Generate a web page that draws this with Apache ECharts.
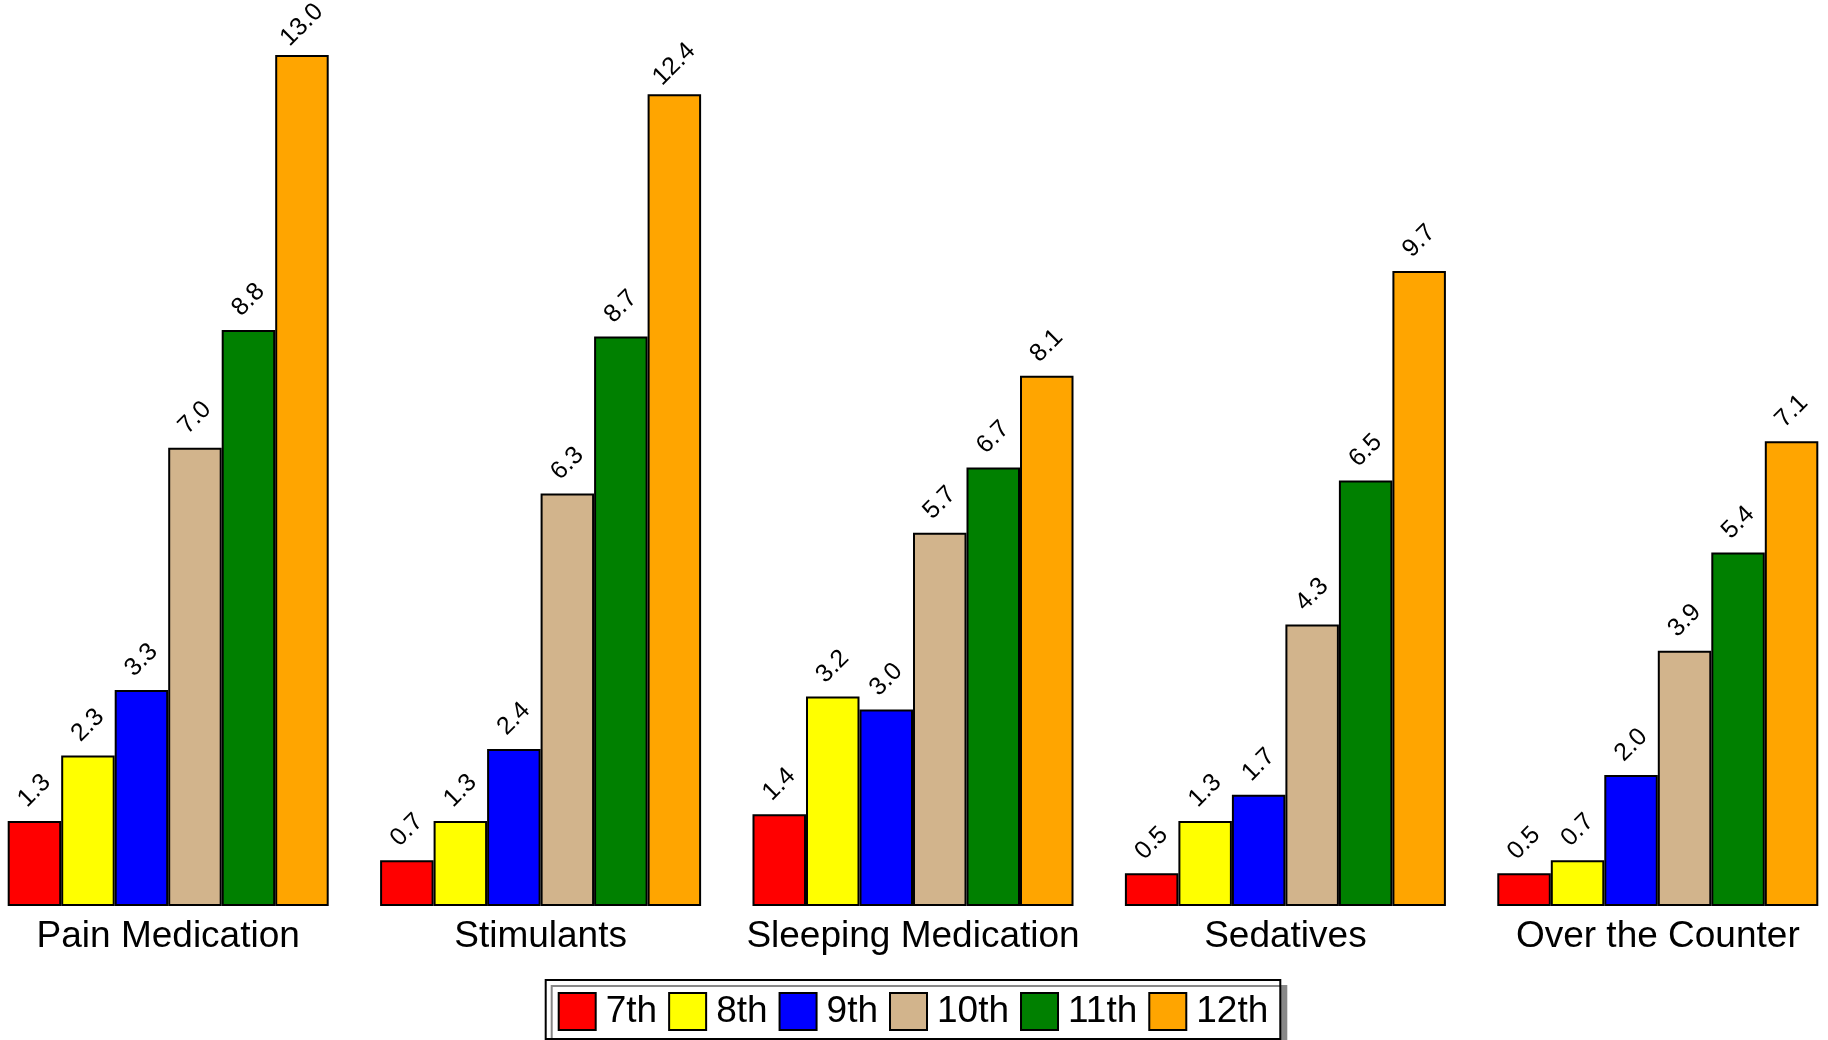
<!DOCTYPE html>
<html>
<head>
<meta charset="utf-8">
<script src="https://cdn.jsdelivr.net/npm/echarts@6/dist/echarts.min.js"></script>
<style>
html,body{margin:0;padding:0;background:#fff;overflow:hidden;width:1828px;height:1040px;}
#chart{position:absolute;left:-17.7px;top:0;width:1862.4px;height:1040px;}
</style>
</head>
<body>
<div id="chart"></div>
<script>
const categories = ['Pain Medication', 'Stimulants', 'Sleeping Medication', 'Sedatives', 'Over the Counter'];
const grades = ['7th', '8th', '9th', '10th', '11th', '12th'];
const grade7 = [1.3, 0.7, 1.4, 0.5, 0.5];
const grade8 = [2.3, 1.3, 3.2, 1.3, 0.7];
const grade9 = [3.3, 2.4, 3.0, 1.7, 2.0];
const grade10 = [7.0, 6.3, 5.7, 4.3, 3.9];
const grade11 = [8.8, 8.7, 6.7, 6.5, 5.4];
const grade12 = [13.0, 12.4, 8.1, 9.7, 7.1];
const colors = ['#FF0000', '#FFFF00', '#0000FF', '#D2B48C', '#008000', '#FFA500'];

const seriesData = [grade7, grade8, grade9, grade10, grade11, grade12];
const FONT = '"Liberation Sans", Arial, Helvetica, sans-serif';

const chart = echarts.init(document.getElementById('chart'), null, {renderer: 'canvas'});
chart.setOption({
  animation: false,
  backgroundColor: '#fff',
  textStyle: {fontFamily: FONT},
  grid: {left: 0, right: 0, top: 55, bottom: 134, containLabel: false},
  xAxis: {
    type: 'category',
    data: categories,
    axisLine: {show: false},
    axisTick: {show: false},
    axisLabel: {fontSize: 37, color: '#000', margin: 12, fontFamily: FONT, interval: 0}
  },
  yAxis: {
    type: 'value',
    min: 0,
    max: 13,
    show: false,
    splitLine: {show: false}
  },
  legend: {
    data: grades,
    left: 'center',
    top: 980,
    orient: 'horizontal',
    itemWidth: 37,
    itemHeight: 37,
    itemGap: 11,
    padding: [12, 12, 8, 12],
    borderColor: '#000',
    borderWidth: 2,
    backgroundColor: '#fff',
    shadowColor: '#888',
    shadowOffsetX: 6,
    shadowOffsetY: 6,
    shadowBlur: 0,
    icon: 'rect',
    textStyle: {fontSize: 37, color: '#000', fontFamily: FONT, padding: [0, 0, 0, 5]}
  },
  series: grades.map((g, i) => ({
    name: g,
    type: 'bar',
    data: seriesData[i],
    barGap: '0%',
    barCategoryGap: '13.8%',
    itemStyle: {color: colors[i], borderColor: '#000', borderWidth: 2},
    label: {
      show: true,
      position: 'top',
      distance: 30,
      rotate: 45,
      align: 'center',
      verticalAlign: 'middle',
      fontSize: 25,
      color: '#000',
      fontFamily: FONT,
      formatter: p => p.value.toFixed(1)
    }
  }))
});
</script>
</body>
</html>
